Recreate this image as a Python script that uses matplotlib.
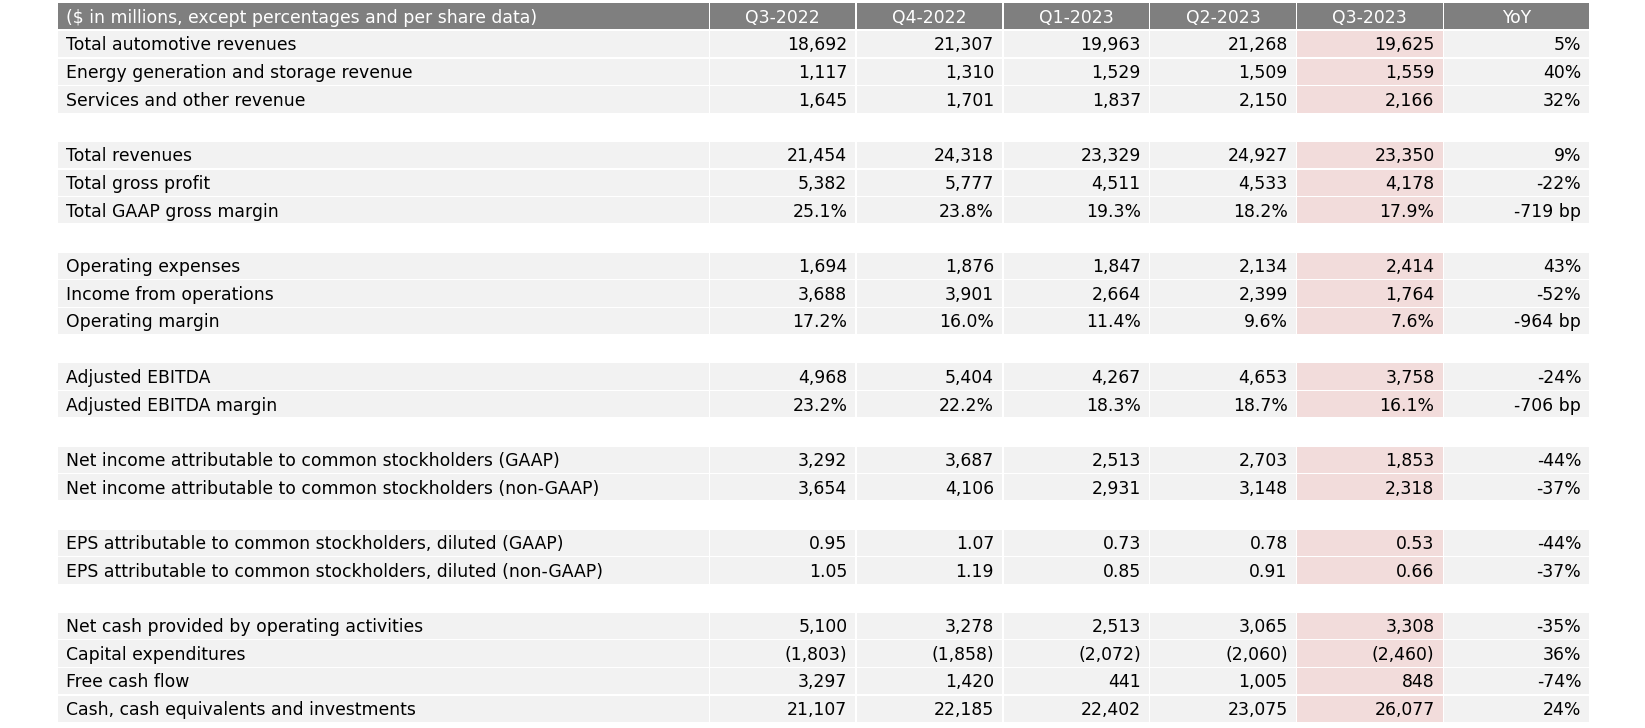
import matplotlib.pyplot as plt
from matplotlib.patches import Rectangle

# table content ("" marks a spacer row)
header_label = "($ in millions, except percentages and per share data)"
columns = ["Q3-2022", "Q4-2022", "Q1-2023", "Q2-2023", "Q3-2023", "YoY"]

row_labels = [
    "Total automotive revenues",
    "Energy generation and storage revenue",
    "Services and other revenue",
    "",
    "Total revenues",
    "Total gross profit",
    "Total GAAP gross margin",
    "",
    "Operating expenses",
    "Income from operations",
    "Operating margin",
    "",
    "Adjusted EBITDA",
    "Adjusted EBITDA margin",
    "",
    "Net income attributable to common stockholders (GAAP)",
    "Net income attributable to common stockholders (non-GAAP)",
    "",
    "EPS attributable to common stockholders, diluted (GAAP)",
    "EPS attributable to common stockholders, diluted (non-GAAP)",
    "",
    "Net cash provided by operating activities",
    "Capital expenditures",
    "Free cash flow",
    "Cash, cash equivalents and investments",
]

q3_2022 = ["18,692", "1,117", "1,645", "", "21,454", "5,382", "25.1%", "",
           "1,694", "3,688", "17.2%", "", "4,968", "23.2%", "", "3,292", "3,654", "",
           "0.95", "1.05", "", "5,100", "(1,803)", "3,297", "21,107"]
q4_2022 = ["21,307", "1,310", "1,701", "", "24,318", "5,777", "23.8%", "",
           "1,876", "3,901", "16.0%", "", "5,404", "22.2%", "", "3,687", "4,106", "",
           "1.07", "1.19", "", "3,278", "(1,858)", "1,420", "22,185"]
q1_2023 = ["19,963", "1,529", "1,837", "", "23,329", "4,511", "19.3%", "",
           "1,847", "2,664", "11.4%", "", "4,267", "18.3%", "", "2,513", "2,931", "",
           "0.73", "0.85", "", "2,513", "(2,072)", "441", "22,402"]
q2_2023 = ["21,268", "1,509", "2,150", "", "24,927", "4,533", "18.2%", "",
           "2,134", "2,399", "9.6%", "", "4,653", "18.7%", "", "2,703", "3,148", "",
           "0.78", "0.91", "", "3,065", "(2,060)", "1,005", "23,075"]
q3_2023 = ["19,625", "1,559", "2,166", "", "23,350", "4,178", "17.9%", "",
           "2,414", "1,764", "7.6%", "", "3,758", "16.1%", "", "1,853", "2,318", "",
           "0.53", "0.66", "", "3,308", "(2,460)", "848", "26,077"]
yoy = ["5%", "40%", "32%", "", "9%", "-22%", "-719 bp", "",
       "43%", "-52%", "-964 bp", "", "-24%", "-706 bp", "", "-44%", "-37%", "",
       "-44%", "-37%", "", "-35%", "36%", "-74%", "24%"]

value_columns = [q3_2022, q4_2022, q1_2023, q2_2023, q3_2023, yoy]
highlight_col = 4

# layout in pixels
W, H = 1645, 728
left, label_right = 58, 708.5
col_w = 146.8
top, pitch, gap = 3.3, 27.7, 1.5

header_bg = "#7f7f7f"
cell_bg = "#f2f2f2"
hl_bg = "#f2dcdb"
font = "DejaVu Sans"
fs = 12.4

fig = plt.figure(figsize=(W / 100, H / 100), dpi=100)
ax = fig.add_axes([0, 0, 1, 1])
ax.set_xlim(0, W)
ax.set_ylim(H, 0)
ax.axis('off')

col_x = [label_right + gap + i * col_w for i in range(len(columns))]


def draw_row(r, label, values, header=False):
    y0 = top + r * pitch
    h = pitch - gap
    yc = y0 + h / 2 + 1.3
    bg = header_bg if header else cell_bg
    color = 'white' if header else 'black'
    ax.add_patch(Rectangle((left, y0), label_right - left, h, facecolor=bg, edgecolor='none'))
    ax.text(left + 8, yc, label, ha='left', va='center', fontsize=fs, color=color, family=font)
    for i, val in enumerate(values):
        x0 = col_x[i]
        fc = bg
        if not header and i == highlight_col:
            fc = hl_bg
        ax.add_patch(Rectangle((x0, y0), col_w - gap, h, facecolor=fc, edgecolor='none'))
        if header:
            ax.text(x0 + (col_w - gap) / 2, yc, val, ha='center', va='center',
                    fontsize=fs, color=color, family=font)
        else:
            ax.text(x0 + col_w - gap - 8, yc, val, ha='right', va='center',
                    fontsize=fs, color=color, family=font)


draw_row(0, header_label, columns, header=True)
for r, label in enumerate(row_labels):
    if label == "":
        continue
    draw_row(r + 1, label, [c[r] for c in value_columns])

fig.savefig("out.png", dpi=100, facecolor='white')
